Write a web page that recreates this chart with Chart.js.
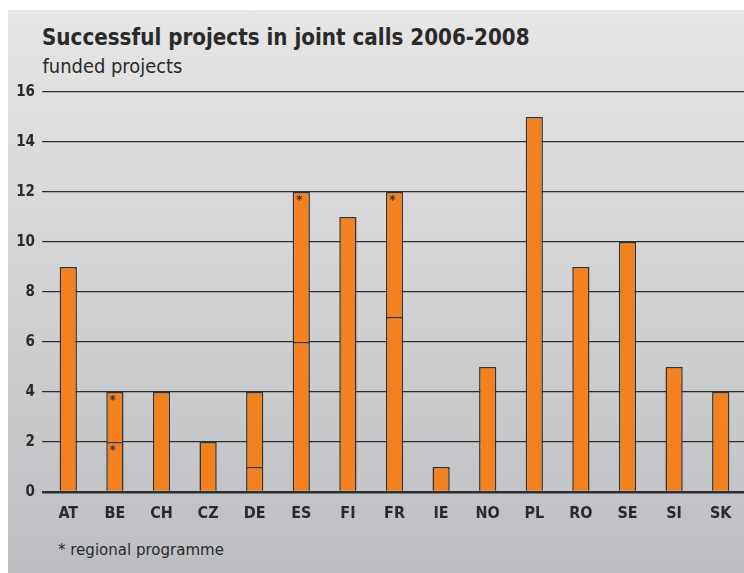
<!DOCTYPE html>
<html>
<head>
<meta charset="utf-8">
<script src="https://cdn.jsdelivr.net/npm/chart.js@4/dist/chart.umd.min.js"></script>
<style>
  html, body { margin: 0; padding: 0; background: #ffffff; overflow: hidden; }
  #wrap { position: relative; width: 744px; height: 573px; overflow: hidden; background: #ffffff; }
  #panel { position: absolute; left: 8px; top: 10px; width: 736px; height: 563px;
           background: linear-gradient(#e6e6e7, #bdbec1); }
  .txt { position: absolute; white-space: nowrap; line-height: 1; color: #2a2a2a;
         font-family: "DejaVu Sans Condensed", "DejaVu Sans", sans-serif; }
  #title { font-weight: bold; }
  canvas { position: absolute; left: 0; top: 0; }
</style>
</head>
<body>
<div id="wrap">
  <div id="panel"></div>
  <div id="title" class="txt">Successful projects in joint calls 2006-2008</div>
  <div id="subtitle" class="txt">funded projects</div>
  <div id="note" class="txt">* regional programme</div>
  <canvas id="c" width="744" height="573"></canvas>
</div>
<script>
// ---- data ----
const categories = ['AT','BE','CH','CZ','DE','ES','FI','FR','IE','NO','PL','RO','SE','SI','SK'];
const lowerSegment = [9, 2, 4, 2, 1, 6, 11, 7, 1, 5, 15, 9, 10, 5, 4];
const upperSegment = [null, 2, null, null, 3, 6, null, 5, null, null, null, null, null, null, null];
const regionalLower = ['BE'];
const regionalUpper = ['BE', 'ES', 'FR'];
const yMin = 0, yMax = 16, yStep = 2;

// ---- text fitting (layout only) ----
function place(id, left, baseline, targetWidth) {
  const el = document.getElementById(id);
  el.style.fontSize = '20px';
  const w = el.getBoundingClientRect().width;
  const size = 20 * targetWidth / w;
  el.style.fontSize = size + 'px';
  el.style.left = left + 'px';
  el.style.top = (baseline - 0.846 * size) + 'px';
}
place('title', 42, 44.5, 488);
place('subtitle', 42.5, 73.5, 140);
place('note', 58, 555, 166);

const ORANGE = '#f48120';
const EDGE = '#333333';
const FONT = '"DejaVu Sans Condensed", "DejaVu Sans", sans-serif';

const asteriskPlugin = {
  id: 'asterisks',
  afterDatasetsDraw(chart) {
    const ctx = chart.ctx;
    ctx.save();
    ctx.fillStyle = '#333333';
    ctx.font = 'bold 13px ' + FONT;
    ctx.textAlign = 'center';
    ctx.textBaseline = 'middle';
    [regionalLower, regionalUpper].forEach((list, di) => {
      const meta = chart.getDatasetMeta(di);
      list.forEach(code => {
        const i = categories.indexOf(code);
        const el = meta.data[i];
        if (!el) return;
        ctx.fillText('*', el.x - 2, el.y + 9);
      });
    });
    ctx.restore();
  }
};

new Chart(document.getElementById('c'), {
  type: 'bar',
  data: {
    labels: categories,
    datasets: [
      { data: lowerSegment, backgroundColor: ORANGE, borderColor: EDGE, borderWidth: 1.5,
        barPercentage: 0.37, categoryPercentage: 1 },
      { data: upperSegment, backgroundColor: ORANGE, borderColor: EDGE, borderWidth: 1.5,
        barPercentage: 0.37, categoryPercentage: 1 }
    ]
  },
  options: {
    responsive: false,
    animation: false,
    layout: { padding: { top: 92, left: 0, right: 0, bottom: 0 } },
    plugins: { legend: { display: false }, tooltip: { enabled: false }, title: { display: false } },
    scales: {
      x: {
        stacked: true,
        grid: { display: false, drawTicks: false },
        border: { display: false },
        ticks: { color: '#2a2a2a', font: { family: FONT, size: 16, weight: 'bold' }, padding: 12 },
        afterFit(scale) { scale.height = 81; }
      },
      y: {
        stacked: true,
        min: yMin, max: yMax,
        border: { display: false },
        grid: {
          color: '#2e2e2e',
          lineWidth: c => (c.tick && c.tick.value === 0 ? 2.4 : 1.2),
          tickLength: 3,
          tickColor: '#2e2e2e'
        },
        ticks: { stepSize: yStep, color: '#2a2a2a', font: { family: FONT, size: 15, weight: 'bold' }, padding: 7 },
        afterFit(scale) { scale.width = 45; }
      }
    }
  },
  plugins: [asteriskPlugin]
});
</script>
</body>
</html>
